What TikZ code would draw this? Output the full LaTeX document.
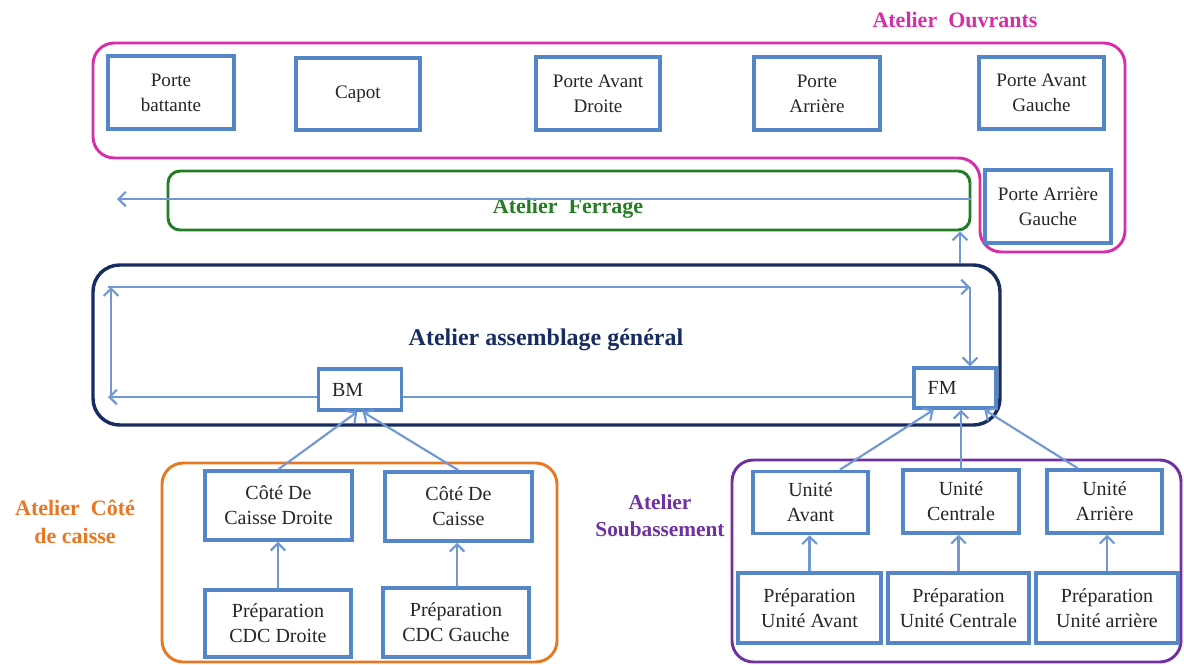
\documentclass[tikz,border=0pt]{standalone}
\usepackage{fontspec}
\setmainfont{Liberation Serif}
\usetikzlibrary{arrows.meta}
\definecolor{cpink}{RGB}{214,46,168}
\definecolor{cgreen}{RGB}{36,124,36}
\definecolor{cnavy}{RGB}{23,45,98}
\definecolor{corange}{RGB}{232,119,34}
\definecolor{cpurple}{RGB}{112,48,160}
\definecolor{cbox}{RGB}{84,134,200}
\definecolor{cflow}{RGB}{112,152,210}
\begin{document}
\begin{tikzpicture}[x=0.75pt,y=-0.75pt,
  sz/.style 2 args={minimum width=#1*0.75pt, minimum height=#2*0.75pt},
  box/.style={draw=cbox, line width=2.6pt, fill=white, align=center, inner sep=0pt, text=black!85, font=\fontsize{15}{18.75}\selectfont},
  topbox/.style={box, font=\fontsize{14.3}{18.75}\selectfont},
  mbox/.style={box, align=left, inner xsep=10pt, inner ysep=0pt},
  group/.style={line width=2.2pt, rounded corners=16pt},
  flow/.style={draw=cflow, line width=1.6pt, -{Straight Barb[length=5.5pt,width=11pt]}},
  plain/.style={draw=cflow, line width=1.6pt},
  title/.style={font=\bfseries\fontsize{16.5}{21.5}\selectfont, align=center}
]
\useasboundingbox (0,0) rectangle (1184,664);

% groups
\draw[group, cpink] (93,43) -- (1125,43) -- (1125,252) -- (980,252) -- (980,158) -- (93,158) -- cycle;
\node[draw=cgreen, line width=2.2pt, rounded corners=9pt, sz={802}{59}] (ferrage) at (569,200.5) {};
\node[draw=cnavy, line width=2.6pt, rounded corners=20pt, sz={907}{160}] (agen) at (546.5,345) {};
\draw[group, corange] (162,463) rectangle (557,662);
\draw[group, cpurple] (732,460) rectangle (1181,662);

% titles
\node[title, text=cpink] (tOuv) at (955,20) {Atelier\enspace Ouvrants};
\node[title, text=cgreen] (tFer) at (568,208) {Atelier\enspace Ferrage};
\node[title, text=cnavy, font=\bfseries\fontsize{18}{22}\selectfont] (tAg) at (546,340) {Atelier assemblage général};
\node[title, text=corange] (tCdc) at (75,522) {Atelier\enspace Côté\\de caisse};
\node[title, text=cpurple, font=\bfseries\fontsize{16}{20.5}\selectfont] (tSb) at (660,516) {Atelier\\Soubassement};

% top boxes
\node[topbox, sz={126}{73}] (pb) at (171,92.5) {Porte\\battante};
\node[topbox, sz={124}{72}] (capot) at (358,94) {Capot};
\node[topbox, sz={124}{73}] (pad) at (598,93.5) {Porte Avant\\Droite};
\node[topbox, sz={126}{73}] (par) at (817,93.5) {Porte\\Arrière};
\node[topbox, sz={125}{72}] (pag) at (1041.5,93) {Porte Avant\\Gauche};
\node[topbox, sz={126}{73}] (parg) at (1048,206.5) {Porte Arrière\\Gauche};

% BM / FM
\node[mbox, sz={80}{41}, text width=42pt] (BM) at (360,389.5) {BM};
\node[mbox, sz={82}{40}, text width=41pt] (FM) at (955,388) {FM};

% cote de caisse
\node[box, sz={147}{69}] (cdcd) at (278.5,505.5) {Côté De\\Caisse Droite};
\node[box, sz={147}{69}] (cdcg) at (458.5,506.5) {Côté De\\Caisse};
\node[box, sz={146}{67}] (pcd) at (278,623.5) {Préparation\\CDC Droite};
\node[box, sz={146}{69}] (pcg) at (456,622.5) {Préparation\\CDC Gauche};

% soubassement
\node[box, sz={115}{62}] (ua) at (810.5,502.5) {Unité\\Avant};
\node[box, sz={116}{63}] (uc) at (961,501.5) {Unité\\Centrale};
\node[box, sz={115}{63}] (ur) at (1104.5,501.5) {Unité\\Arrière};
\node[box, sz={143}{70}] (pua) at (809.5,608) {Préparation\\Unité Avant};
\node[box, sz={141}{70}] (puc) at (958.5,608) {Préparation\\Unité Centrale};
\node[box, sz={142}{70}] (pur) at (1107,608) {Préparation\\Unité arrière};

% connectors
\coordinate (fout) at (117,199);
\coordinate (feed) at (960,0);
\coordinate (bl) at (108,397);
\coordinate (tl) at (111,287);
\coordinate (tr) at (970,287);
\draw[flow] (ferrage.east |- fout) -- (fout);
\draw[flow] (agen.north -| feed) -- (ferrage.south -| feed);
\draw[plain] (FM.west |- bl) -- (BM.east |- bl);
\draw[flow] (BM.west |- bl) -- (bl);
\draw[flow] (tl |- bl) -- (tl);
\draw[flow] (bl |- tl) -- (tr);
\draw[flow] (tr) -- (tr |- FM.north);

\draw[flow] (cdcd.north) -- ([xshift=-2pt]BM.south);
\draw[flow] (cdcg.north) -- ([xshift=2pt]BM.south);
\draw[flow] (pcd.north) -- (pcd.north |- cdcd.south);
\draw[flow] ([xshift=0.75pt]pcg.north) -- ([xshift=0.75pt]pcg.north |- cdcg.south);

\draw[flow] ([xshift=22pt]ua.north) -- ([xshift=-16pt]FM.south);
\draw[flow] (uc.north) -- (uc.north |- FM.south);
\draw[flow] ([xshift=-20pt]ur.north) -- ([xshift=22pt]FM.south);
\draw[flow] (pua.north) -- (pua.north |- ua.south);
\draw[flow] (puc.north) -- (puc.north |- uc.south);
\draw[flow] (pur.north) -- (pur.north |- ur.south);
\end{tikzpicture}
\end{document}
